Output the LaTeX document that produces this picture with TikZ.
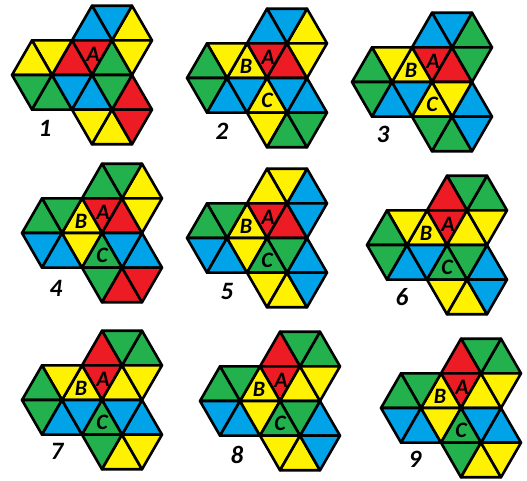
\documentclass[tikz,border=0pt]{standalone}
\usepackage{fontspec}
\setmainfont{Carlito}
\definecolor{cr}{HTML}{ED1C24}
\definecolor{cy}{HTML}{FFF200}
\definecolor{cg}{HTML}{22B14C}
\definecolor{cb}{HTML}{00A2E8}
\tikzset{
  tri/.style={draw=black,line width=2.6pt,line join=round},
  letter/.style={inner sep=0pt,font=\fontsize{22}{26}\selectfont\bfseries\itshape},
  figno/.style={inner sep=0pt,font=\fontsize{25}{30}\selectfont\bfseries\itshape}
}
% three hexagons round the point (#1,#2): top, left, bottom
% each colour list runs from the upper right triangle, counter-clockwise
\newcommand{\hexfig}[5]{%
  \begin{scope}[shift={(#1,#2)}]
    \foreach \col [count=\idx from 0] in {#3}
      \filldraw[tri,fill=\col] (20,-34.64) -- ++(-60*\idx:40) -- ++(-60*\idx-120:40) -- cycle;
    \foreach \col [count=\idx from 0] in {#4}
      \filldraw[tri,fill=\col] (-40,0) -- ++(-60*\idx:40) -- ++(-60*\idx-120:40) -- cycle;
    \foreach \col [count=\idx from 0] in {#5}
      \filldraw[tri,fill=\col] (20,34.64) -- ++(-60*\idx:40) -- ++(-60*\idx-120:40) -- cycle;
  \end{scope}}
\begin{document}
\begin{tikzpicture}[x=1pt,y=-1pt]
\path[use as bounding box] (0,0) rectangle (527,480);
% row 1
\hexfig{92}{75}{cy,cb,cb,cr,cg,cy}{cr,cy,cy,cg,cg,cb}{cr,cg,cb,cy,cy,cr}
\node[letter] (A1) at (93,54) {A};
\node[figno] (n1) at (45,128) {1};
\hexfig{267}{78}{cy,cb,cb,cr,cr,cy}{cy,cy,cg,cg,cb,cb}{cb,cb,cy,cy,cg,cg}
\node[letter] (A2) at (268,57) {A};
\node[letter] (B2) at (246,66.5) {B};
\node[letter] (C2) at (267,100) {C};
\node[figno] (n2) at (222,131) {2};
\hexfig{432}{82}{cg,cb,cb,cr,cr,cg}{cy,cy,cg,cg,cb,cb}{cb,cy,cy,cg,cg,cb}
\node[letter] (A3) at (433,61) {A};
\node[letter] (B3) at (411,70.5) {B};
\node[letter] (C3) at (432,104) {C};
\node[figno] (n3) at (383,134) {3};
% row 2
\hexfig{102}{233}{cy,cg,cg,cr,cr,cy}{cy,cg,cg,cb,cb,cy}{cb,cb,cg,cg,cr,cr}
\node[letter] (A4) at (103,212) {A};
\node[letter] (B4) at (81,221.5) {B};
\node[letter] (C4) at (102,255) {C};
\node[figno] (n4) at (56,288) {4};
\hexfig{267}{238}{cb,cy,cy,cr,cr,cb}{cy,cg,cg,cb,cb,cy}{cb,cg,cg,cy,cy,cb}
\node[letter] (A5) at (268,217) {A};
\node[letter] (B5) at (246,226.5) {B};
\node[letter] (C5) at (267,260) {C};
\node[figno] (n5) at (227,291) {5};
\hexfig{447}{245}{cg,cg,cr,cr,cy,cy}{cy,cy,cg,cg,cb,cb}{cb,cg,cg,cy,cy,cb}
\node[letter] (A6) at (448,224) {A};
\node[letter] (B6) at (426,233.5) {B};
\node[letter] (C6) at (447,267) {C};
\node[figno] (n6) at (402,297) {6};
% row 3
\hexfig{102}{400}{cg,cg,cr,cr,cy,cy}{cy,cy,cg,cg,cb,cb}{cb,cb,cg,cg,cy,cy}
\node[letter] (A7) at (103,379) {A};
\node[letter] (B7) at (81,388.5) {B};
\node[letter] (C7) at (102,422) {C};
\node[figno] (n7) at (57,451) {7};
\hexfig{280}{401}{cg,cg,cr,cr,cy,cy}{cy,cg,cg,cb,cb,cy}{cb,cg,cg,cy,cy,cb}
\node[letter] (A8) at (281,380) {A};
\node[letter] (B8) at (259,389.5) {B};
\node[letter] (C8) at (280,423) {C};
\node[figno] (n8) at (237,455) {8};
\hexfig{461}{408}{cg,cg,cr,cr,cy,cy}{cy,cg,cg,cb,cb,cy}{cb,cb,cg,cg,cy,cy}
\node[letter] (A9) at (462,387) {A};
\node[letter] (B9) at (440,396.5) {B};
\node[letter] (C9) at (461,430) {C};
\node[figno] (n9) at (415,459) {9};
\end{tikzpicture}
\end{document}
